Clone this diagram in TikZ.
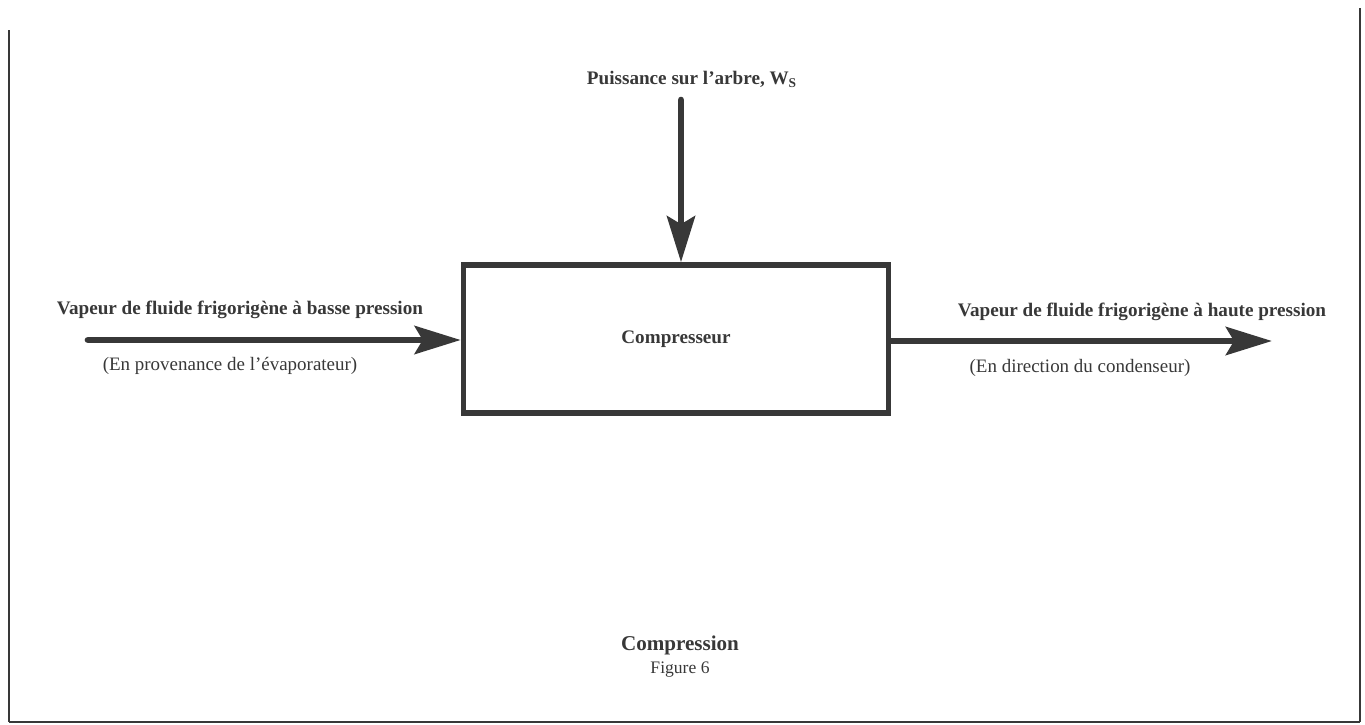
\documentclass[tikz,border=0pt]{standalone}
\usepackage{fontspec}
\setmainfont{Liberation Serif}
\usetikzlibrary{arrows.meta,positioning}
\definecolor{encre}{gray}{0.22}

\begin{document}
\begin{tikzpicture}[x=0.02cm, y=-0.02cm, color=encre, text=encre,
    fleche/.style={line width=3.8pt, line cap=round, -{Stealth[length=9.2mm, width=5.6mm, inset=1.6mm]}},
    etiq/.style={font=\bfseries\fontsize{10.9}{13}\selectfont},
    note/.style={font=\fontsize{10.8}{13}\selectfont}]
    \useasboundingbox (0,0) rectangle (1365,724);

    % cadre
    \draw [line width=1.6pt] (9,30) -- (9,722);
    \draw [line width=1.6pt] (1360,8) -- (1360,722);
    \draw [line width=0.6pt] (9,722) -- (1360,722);

    % Compresseur
    \node [draw, line width=3.2pt, minimum width=8.5cm, minimum height=2.96cm, font=\bfseries\fontsize{10.9}{13}\selectfont] (comp) at (676,339) {Compresseur};

    % Puissance sur l'arbre
    \node [etiq] (puiss) at (692,79) {Puissance sur l'arbre, W\textsubscript{S}};
    \coordinate (arbre) at (681,100);
    \draw [fleche] (arbre) -- (arbre |- comp.north);

    % Entree
    \coordinate (entree) at (88,340);
    \draw [fleche] (entree) -- (entree -| comp.west);
    \node [etiq] (bp) at (240,310) {Vapeur de fluide frigorigène à basse pression};
    \node [note] (evap) at (230,366) {(En provenance de l'évaporateur)};

    % Sortie
    \coordinate (sortie) at (1272,341);
    \draw [fleche] (comp.east |- sortie) -- (sortie);
    \node [etiq] (hp) at (1142,312) {Vapeur de fluide frigorigène à haute pression};
    \node [note] (cond) at (1080,368) {(En direction du condenseur)};

    % Legende
    \node [font=\bfseries\fontsize{12}{14}\selectfont] (titre) at (680,645) {Compression};
    \node [note, font=\fontsize{10}{12}\selectfont, below=-3pt of titre] (fig) {Figure 6};
\end{tikzpicture}
\end{document}
